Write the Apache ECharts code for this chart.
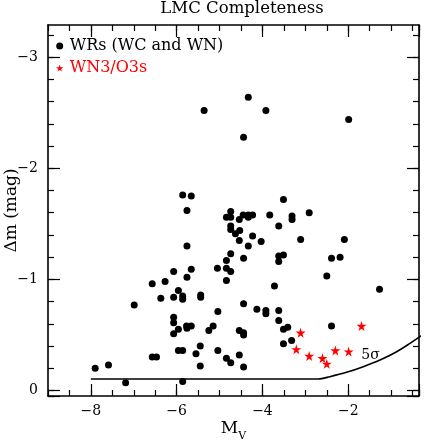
<!DOCTYPE html>
<html>
<head>
<meta charset="UTF-8">
<title>LMC Completeness</title>
<script src="https://cdn.jsdelivr.net/npm/echarts@6/dist/echarts.min.js"></script>
<style>
 html,body{margin:0;padding:0;background:#fff;}
 #main{width:443px;height:443px;}
</style>
</head>
<body>
<div id="main"></div>
<script>
// WRs (WC and WN): absolute magnitude and delta m
var wrMv = [-5.36,-4.33,-3.92,-1.99,-4.44,-5.86,-5.66,-5.76,-3.51,-4.74,
            -4.84,-4.74,-4.45,-4.33,-4.23,-4.33,-4.54,-3.83,-3.31,-3.31,
            -2.91,-3.62,-4.74,-4.74,-4.53,-4.63,-4.23,-4.54,-4.03,-4.33,
            -3.11,-2.09,-5.76,-4.74,-4.84,-4.44,-3.62,-3.51,-3.62,-2.39,
            -2.19,-5.05,-4.84,-4.74,-4.84,-5.66,-6.07,-5.76,-2.50,-6.57,
            -6.27,-3.72,-1.27,-5.96,-6.07,-5.86,-5.86,-5.44,-5.44,-6.37,
            -6.99,-4.44,-5.04,-4.13,-3.92,-3.92,-3.62,-3.62,-6.07,-6.07,
            -5.77,-5.66,-5.76,-5.96,-6.07,-5.15,-5.25,-4.54,-4.44,-4.44,
            -3.41,-3.51,-2.39,-3.51,-3.32,-5.45,-5.96,-5.86,-5.55,-5.04,
            -4.84,-4.74,-4.54,-4.44,-6.57,-6.47,-7.59,-7.90,-5.45,-7.19,
            -5.86];
var wrDm = [-2.52,-2.64,-2.52,-2.44,-2.28,-1.76,-1.75,-1.62,-1.72,-1.61,
            -1.56,-1.56,-1.58,-1.58,-1.58,-1.56,-1.54,-1.58,-1.57,-1.54,
            -1.60,-1.48,-1.48,-1.45,-1.44,-1.41,-1.39,-1.35,-1.34,-1.30,
            -1.36,-1.36,-1.30,-1.23,-1.17,-1.19,-1.21,-1.22,-1.16,-1.19,
            -1.20,-1.10,-1.10,-1.07,-0.99,-1.09,-1.07,-1.02,-1.03,-0.96,
            -0.98,-0.94,-0.91,-0.90,-0.84,-0.85,-0.82,-0.86,-0.84,-0.83,
            -0.77,-0.78,-0.71,-0.73,-0.72,-0.69,-0.72,-0.63,-0.66,-0.61,
            -0.58,-0.58,-0.56,-0.55,-0.51,-0.58,-0.54,-0.54,-0.52,-0.50,
            -0.57,-0.55,-0.58,-0.42,-0.45,-0.40,-0.36,-0.36,-0.33,-0.36,
            -0.29,-0.25,-0.32,-0.21,-0.30,-0.30,-0.23,-0.20,-0.22,-0.07,
            -0.08];
// WN3/O3s
var wn3Mv = [-1.69,-3.11,-3.21,-2.91,-2.60,-2.50,-2.30,-1.99];
var wn3Dm = [-0.58,-0.52,-0.37,-0.31,-0.29,-0.24,-0.36,-0.35];
// 5 sigma completeness limit
var limitMv = [-8,-3.0,-2.70,-2.43,-2.04,-1.65,-1.26,-0.87,-0.56,-0.33,-0.1];
var limitDm = [-0.103,-0.103,-0.103,-0.124,-0.163,-0.214,-0.274,-0.349,-0.424,-0.484,-0.55];
var sigmaLabelPos = [-1.48,-0.32];

// axis ranges and ticks
var xMin = -9, xMax = -0.35, yMin = -3.29, yMax = 0.05;
var xLabels = [-8,-6,-4,-2];
var yLabels = [-3,-2,-1,0];
var xMajorStart = -8, xMajorStep = 2, xMinorStep = 0.5;
var yMajorStart = -3, yMajorStep = 1, yMinorStart = -3.2, yMinorStep = 0.2;

var W = 443, H = 443;
var gL = 48, gR = 24, gT = 25, gB = 47;
var plotW = W - gL - gR, plotH = H - gT - gB;
function xPx(v) { return gL + (v - xMin) / (xMax - xMin) * plotW; }
function yPx(v) { return gT + (v - yMin) / (yMax - yMin) * plotH; }

var FONT = 'DejaVu Serif';
var STAR = 'path://M50,0 L61,35 L98,35 L68,57 L79,91 L50,70 L21,91 L32,57 L2,35 L39,35 Z';
var tickStyle = {color: '#000', width: 1.2};
var frameStyle = {color: '#000', width: 1.6};

function pairs(a, b) {
  return a.map(function (v, i) { return [v, b[i]]; });
}
function minusFmt(v) {
  return v === 0 ? '0' : (v < 0 ? '\u2212' : '') + Math.abs(v);
}
function hidden(grid) {
  return {type: 'value', gridIndex: grid, show: false, min: 0, max: 1};
}
// axis that only draws ticks (and maybe the frame line)
function tickAxis(grid, pos, min, max, step, len, line, inverse) {
  return {
    type: 'value', gridIndex: grid, position: pos, inverse: !!inverse,
    min: min, max: max, interval: step,
    axisLine: {show: line, onZero: false, lineStyle: frameStyle},
    axisTick: {show: true, inside: true, length: len, lineStyle: tickStyle},
    axisLabel: {show: false},
    splitLine: {show: false}
  };
}

// grid 0: data + frame + x minor ticks
var xBottom = tickAxis(0, 'bottom', xMin, xMax, xMinorStep, 6, true);
xBottom.axisLabel = {show: true, customValues: xLabels, formatter: minusFmt, margin: 8,
  color: '#000', fontFamily: FONT, fontSize: 14};
xBottom.name = '{m|M}{v|V}';
xBottom.nameLocation = 'middle';
xBottom.nameGap = 24;
xBottom.nameMoveOverlap = false;
xBottom.nameTextStyle = {
  color: '#000', fontFamily: FONT,
  rich: {
    m: {fontSize: 17, fontFamily: FONT, color: '#000', padding: [0, 0, 5, 0], verticalAlign: 'bottom'},
    v: {fontSize: 11, fontFamily: FONT, color: '#000', verticalAlign: 'bottom'}
  }
};
var xTop = tickAxis(0, 'top', xMin, xMax, xMinorStep, 6, true);

var yLeft = {
  type: 'value', gridIndex: 0, position: 'left', inverse: true, min: yMin, max: yMax,
  axisLine: {show: true, onZero: false, lineStyle: frameStyle},
  axisTick: {show: false},
  axisLabel: {show: true, customValues: yLabels, formatter: minusFmt, margin: 10,
    color: '#000', fontFamily: FONT, fontSize: 14},
  splitLine: {show: false},
  name: '\u0394m (mag)', nameLocation: 'middle', nameGap: 28, nameMoveOverlap: false,
  nameTextStyle: {color: '#000', fontFamily: FONT, fontSize: 17}
};
var yRight = {
  type: 'value', gridIndex: 0, position: 'right', inverse: true, min: yMin, max: yMax,
  axisLine: {show: true, onZero: false, lineStyle: frameStyle},
  axisTick: {show: false}, axisLabel: {show: false}, splitLine: {show: false}
};

var grids = [
  {left: gL, right: gR, top: gT, bottom: gB},
  {left: xPx(xMajorStart), right: gR, top: gT, bottom: gB},
  {left: gL, right: gR, top: yPx(yMinorStart), bottom: gB},
  {left: gL, right: gR, top: yPx(yMajorStart), bottom: gB}
];
grids.forEach(function (g) { g.outerBoundsMode = 'none'; g.containLabel = false; });

var option = {
  animation: false,
  backgroundColor: '#fff',
  title: {
    text: 'LMC Completeness', left: 242, top: 0, padding: 0, textAlign: 'center',
    textStyle: {color: '#000', fontFamily: FONT, fontSize: 16.5, fontWeight: 'normal'}
  },
  legend: {
    orient: 'vertical', left: 56, top: 38, padding: 0,
    itemWidth: 10, itemHeight: 7, itemGap: 6,
    textStyle: {color: '#000', fontFamily: FONT, fontSize: 16, lineHeight: 16},
    data: [
      {name: 'WRs (WC and WN)', icon: 'circle'},
      {name: 'WN3/O3s', icon: STAR, textStyle: {color: '#ff0000'}}
    ]
  },
  grid: grids,
  xAxis: [
    xBottom, xTop,
    tickAxis(1, 'bottom', xMajorStart, xMax, xMajorStep, 12, false),
    tickAxis(1, 'top', xMajorStart, xMax, xMajorStep, 12, false),
    hidden(2), hidden(3)
  ],
  yAxis: [
    yLeft, yRight, hidden(1),
    tickAxis(2, 'left', yMinorStart, yMax, yMinorStep, 6, false, true),
    tickAxis(2, 'right', yMinorStart, yMax, yMinorStep, 6, false, true),
    tickAxis(3, 'left', yMajorStart, yMax, yMajorStep, 12, false, true),
    tickAxis(3, 'right', yMajorStart, yMax, yMajorStep, 12, false, true)
  ],
  series: [
    {
      name: 'WRs (WC and WN)', type: 'scatter', xAxisIndex: 0, yAxisIndex: 0,
      symbol: 'circle', symbolSize: 7, itemStyle: {color: '#000', opacity: 1},
      data: pairs(wrMv, wrDm)
    },
    {
      name: 'WN3/O3s', type: 'scatter', xAxisIndex: 0, yAxisIndex: 0,
      symbol: STAR, symbolSize: 10, itemStyle: {color: '#ff0000', opacity: 1},
      data: pairs(wn3Mv, wn3Dm)
    },
    {
      name: 'limit', type: 'line', xAxisIndex: 0, yAxisIndex: 0,
      symbol: 'none', smooth: 0.3, clip: true, silent: true,
      lineStyle: {color: '#000', width: 1.6},
      data: pairs(limitMv, limitDm),
      markPoint: {
        symbol: 'circle', symbolSize: 0, silent: true,
        label: {show: true, position: 'inside', formatter: '5\u03c3', color: '#000', fontFamily: FONT, fontSize: 14},
        data: [{coord: sigmaLabelPos}]
      }
    }
  ]
};

var chart = echarts.init(document.getElementById('main'));
chart.setOption(option);
</script>
</body>
</html>
